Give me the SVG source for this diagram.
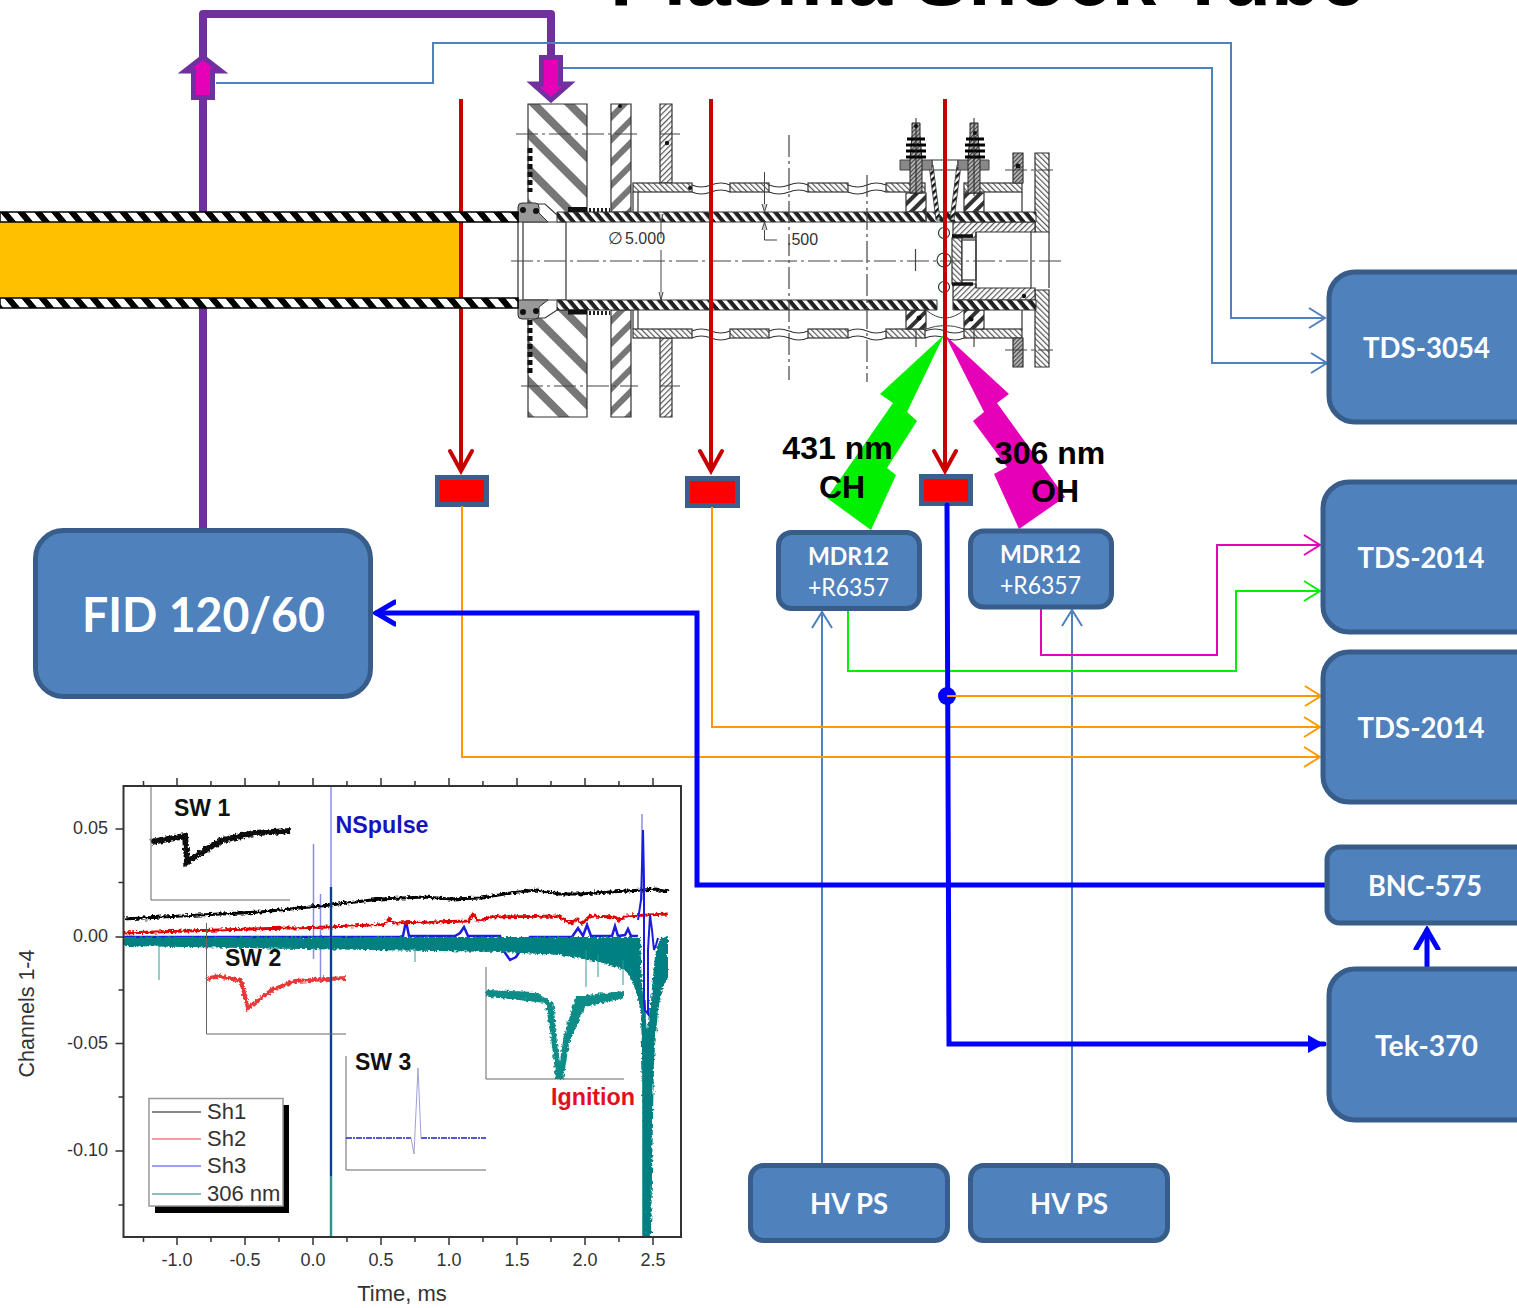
<svg xmlns="http://www.w3.org/2000/svg" width="1517" height="1308" viewBox="0 0 1517 1308">
<style>
.box{fill:#4F81BD;stroke:#385D8A;stroke-width:5}
.lbl{font-family:Lato,"Open Sans",sans-serif;font-weight:700;fill:#fff;text-anchor:middle}
.reg{font-weight:400}
.det{fill:#f00;stroke:#3B5E8C;stroke-width:5}
.thin{fill:none;stroke-width:2;stroke-linejoin:miter}
.b{stroke:#4F81BD}.o{stroke:#FF9900}.g{stroke:#00F000}.m{stroke:#E600B8}
.thick{fill:none;stroke:#0000FF;stroke-width:5;stroke-linecap:round;stroke-linejoin:miter}
.red{fill:none;stroke:#C80000;stroke-width:4}
.dk{fill:none;stroke:#333;stroke-width:1.2}
.cl{fill:none;stroke:#444;stroke-width:1.2;stroke-dasharray:22 4 3 4}
.ax{fill:none;stroke:#666;stroke-width:1}
.t{font-family:"Liberation Sans",Arial,sans-serif;fill:#333}
.tb{font-family:"Liberation Sans",Arial,sans-serif;font-weight:700}
.tick{font-size:18px;text-anchor:middle}
.ytick{font-size:18px;text-anchor:end}
.leg{font-size:22px}
</style>
<defs>
<marker id="mb" viewBox="-18 -12 20 24" refX="0" refY="0" markerWidth="20" markerHeight="24" markerUnits="userSpaceOnUse" orient="auto"><path d="M-16-10L0 0L-16 10" fill="none" stroke="#4F81BD" stroke-width="2"/></marker>
<marker id="mo" viewBox="-18 -12 20 24" refX="0" refY="0" markerWidth="20" markerHeight="24" markerUnits="userSpaceOnUse" orient="auto"><path d="M-16-10L0 0L-16 10" fill="none" stroke="#FF9900" stroke-width="2"/></marker>
<marker id="mg" viewBox="-18 -12 20 24" refX="0" refY="0" markerWidth="20" markerHeight="24" markerUnits="userSpaceOnUse" orient="auto"><path d="M-16-10L0 0L-16 10" fill="none" stroke="#00F000" stroke-width="2"/></marker>
<marker id="mm" viewBox="-18 -12 20 24" refX="0" refY="0" markerWidth="20" markerHeight="24" markerUnits="userSpaceOnUse" orient="auto"><path d="M-16-10L0 0L-16 10" fill="none" stroke="#E600B8" stroke-width="2"/></marker>
<marker id="mr" viewBox="-24 -14 28 28" refX="0" refY="0" markerWidth="28" markerHeight="28" markerUnits="userSpaceOnUse" orient="auto"><path d="M-20-11L0 0L-20 11" fill="none" stroke="#C80000" stroke-width="4" stroke-linecap="round"/></marker>
<marker id="mt" viewBox="-20 -14 24 28" refX="0" refY="0" markerWidth="24" markerHeight="28" markerUnits="userSpaceOnUse" orient="auto"><path d="M-19-11L0 0L-19 11" fill="none" stroke="#0000FF" stroke-width="5" stroke-linecap="round"/></marker>
<marker id="mf" viewBox="-16 -10 18 20" refX="0" refY="0" markerWidth="18" markerHeight="20" markerUnits="userSpaceOnUse" orient="auto"><path d="M-16-9L0 0L-16 9Z" fill="#0000FF"/></marker>
<pattern id="wallL" width="17" height="10" patternUnits="userSpaceOnUse" patternTransform="skewX(40)"><rect width="17" height="10" fill="#000"/><rect width="9" height="10" fill="#fff"/></pattern>
<pattern id="wallD" width="10" height="10" patternUnits="userSpaceOnUse" patternTransform="skewX(40)"><rect width="10" height="10" fill="#222"/><rect width="4.5" height="10" fill="#fff"/></pattern>
<pattern id="hatchA" width="25" height="25" patternUnits="userSpaceOnUse" patternTransform="rotate(-45)"><rect width="25" height="25" fill="#fff"/><rect width="8" height="25" fill="#777"/></pattern>
<pattern id="hatchB" width="16" height="16" patternUnits="userSpaceOnUse" patternTransform="rotate(45)"><rect width="16" height="16" fill="#fff"/><rect width="6" height="16" fill="#777"/></pattern>
<pattern id="fine" width="4" height="4" patternUnits="userSpaceOnUse" patternTransform="rotate(-45)"><rect width="4" height="4" fill="#fff"/><rect width="1.2" height="4" fill="#555"/></pattern>
<pattern id="fineR" width="4" height="4" patternUnits="userSpaceOnUse" patternTransform="rotate(45)"><rect width="4" height="4" fill="#fff"/><rect width="1.2" height="4" fill="#555"/></pattern>
<pattern id="dense" width="3" height="3" patternUnits="userSpaceOnUse" patternTransform="rotate(45)"><rect width="3" height="3" fill="#bbb"/><rect width="1.2" height="3" fill="#444"/></pattern>
<pattern id="bold" width="9" height="9" patternUnits="userSpaceOnUse" patternTransform="rotate(45)"><rect width="9" height="9" fill="#fff"/><rect width="4" height="9" fill="#333"/></pattern>
<pattern id="strip" width="5" height="5" patternUnits="userSpaceOnUse" patternTransform="rotate(45)"><rect width="5" height="5" fill="#fff"/><rect width="2.500" height="5" fill="#111"/></pattern>
<filter id="noise" filterUnits="userSpaceOnUse" x="100" y="770" width="600" height="490"><feTurbulence type="fractalNoise" baseFrequency="0.35" numOctaves="2" seed="4"/><feDisplacementMap in="SourceGraphic" scale="5" xChannelSelector="R" yChannelSelector="G"/></filter>
</defs>

<text x="610" y="5" class="tb" font-size="80" textLength="755" lengthAdjust="spacingAndGlyphs" fill="#000">Plasma Shock Tube</text>

<g id="purple-line"><path d="M203 530V14H551V60" fill="none" stroke="#7030A0" stroke-width="8" stroke-linejoin="round"/></g>

<rect id="gas" x="0" y="222" width="461" height="76" fill="#FFC000"/>

<g id="cutaway">
<g class="dk">
<path d="M528 104H587V215H557L545 204H528Z" fill="url(#hatchA)"/>
<path d="M528 318H545L557 310H587V417H528Z" fill="url(#hatchA)"/>
<path d="M611 104H631V212H611Z" fill="url(#hatchB)"/>
<path d="M611 310H631V417H611Z" fill="url(#hatchB)"/>
<path d="M660 104H672V183H660Z" fill="url(#fineR)"/>
<path d="M660 338H672V417H660Z" fill="url(#fineR)"/>
<g fill="url(#fine)">
<rect x="633" y="183" width="59" height="9"/><rect x="730" y="183" width="39" height="9"/><rect x="808" y="183" width="40" height="9"/><rect x="886" y="183" width="39" height="9"/><rect x="964" y="183" width="58" height="9"/>
<rect x="633" y="329" width="59" height="9"/><rect x="730" y="329" width="39" height="9"/><rect x="808" y="329" width="40" height="9"/><rect x="886" y="329" width="39" height="9"/><rect x="964" y="329" width="58" height="9"/>
</g>
<path d="M692 185q9 4 19 0t19 0M692 192q9 4 19 0t19 0M769 185q10 4 20 0t19 0M769 192q10 4 20 0t19 0M848 185q10 4 19 0t19 0M848 192q10 4 19 0t19 0M692 331q9-4 19 0t19 0M692 338q9-4 19 0t19 0M769 331q10-4 20 0t19 0M769 338q10-4 20 0t19 0M848 331q10-4 19 0t19 0M848 338q10-4 19 0t19 0M925 331q10-4 20 0t19 0M925 338q10-4 20 0t19 0"/>
<path d="M633 192V212M638 192V212M633 310V329M638 310V329M1022 192V212M1022 310V329"/>
<rect x="906" y="193" width="20" height="19" fill="url(#bold)"/><rect x="964" y="193" width="20" height="19" fill="url(#bold)"/>
<rect x="906" y="310" width="20" height="19" fill="url(#bold)"/><rect x="964" y="310" width="20" height="19" fill="url(#bold)"/>
<path d="M1013 153H1023V183H1013ZM1013 338H1023V367H1013Z" fill="url(#dense)"/>
<path d="M1035 153H1049V232H1035ZM1035 290H1049V367H1035Z" fill="url(#fine)"/>
<path d="M953 222H1035V232H976V238H953ZM953 300H1035V288H976V284H953Z" fill="url(#fineR)"/>
<rect x="952" y="238" width="10" height="46" fill="url(#fine)"/>
<rect x="962" y="240" width="14" height="40" fill="#fff"/>
<path d="M976 232V288M1031 232V288M1049 232V288M566 222V300M518 222V300M523 222V300M523 222H566M523 300H566"/>
<path d="M932 160H958V170H932Z" fill="#fff"/>
<circle cx="944" cy="233" r="5.500" fill="none"/><circle cx="944" cy="260" r="7" fill="none"/><circle cx="944" cy="287" r="5.500" fill="none"/>
</g>
<path d="M926 212V222H1036V212ZM557 212H926V222H557Z" fill="url(#wallD)" stroke="#333"/>
<path d="M557 300H937V310H557ZM953 300H1036V310H953Z" fill="url(#wallD)" stroke="#333"/>
<path d="M929 165H933L940 220H936ZM961 165H957L950 220H954Z" fill="url(#strip)" stroke="#333" stroke-width=".8"/>
<path d="M926 310Q945 326 964 310M926 329Q945 322 964 329" fill="none" stroke="#444"/>
<path d="M525 203H535Q539 203 539 207V213L548 222H523L518 222V207Q518 203 522 203ZM518 300H548L539 307V315Q539 319 535 319H522Q518 319 518 315Z" fill="#999" stroke="#333"/>
<circle cx="523" cy="210" r="3" fill="#111"/><circle cx="536" cy="211" r="3" fill="#111"/><circle cx="523" cy="312" r="3" fill="#111"/><circle cx="536" cy="311" r="3" fill="#111"/>
<path d="M530 148V192M530 320V373" stroke="#111" stroke-width="5" stroke-dasharray="5 3" fill="none"/>
<path d="M568 209.500H587M568 312H587" stroke="#111" stroke-width="5" fill="none"/>
<path d="M589 210H610M589 313H610" stroke="#222" stroke-width="4" stroke-dasharray="2 2" fill="none"/>
<path d="M900 160H932V170H900ZM958 160H989V170H958Z" fill="#888" stroke="#444"/>
<g fill="url(#dense)" stroke="#222"><path d="M912 123H920V135L922 160V193H910V160L912 135Z"/><path d="M970 123H978V135L980 160V193H968V160L970 135Z"/></g>
<path d="M907 139H925M906 145H926M906 151H926M906 157H926M966 139H984M965 145H985M965 151H985M965 157H985" stroke="#000" stroke-width="3"/>
<path d="M916 118V196M974 118V196M916 330V347M974 330V347" stroke="#222" fill="none"/>
<path d="M952 236H973M952 284H973" stroke="#111" stroke-width="3.500" fill="none"/>
<g fill="#111"><circle cx="620" cy="106" r="2"/><circle cx="667" cy="143" r="2.200"/><circle cx="690" cy="188" r="2"/><circle cx="1018" cy="166" r="2.500"/><circle cx="919" cy="318" r="2.500"/><circle cx="971" cy="319" r="2.500"/><circle cx="1024" cy="296" r="2.200"/><circle cx="916" cy="126" r="2"/><circle cx="975" cy="133" r="2"/></g>
<g class="cl"><path d="M511 261H1063"/><path d="M516 134H638M660 134H680M521 386H638M660 386H680M1005 170H1053M1005 350H1053"/><path d="M789 135V380M867 175V382M915.500 249V272"/></g>
<g fill="none" stroke="#444"><path d="M661 222V238M661 250V300M764.500 172V212M764.500 222V240H777"/><path d="M659 214L661 222L663 214M659 292L661 300L663 292M762 204L764.500 212L767 204M762 230L764.500 222L767 230" fill="#ccc"/></g>
<text x="608" y="244" class="t" font-size="17" fill="#444">∅</text><text x="625" y="244" class="t" font-size="16">5.000</text><text x="787" y="245" class="t" font-size="16">.500</text>
</g>

<g id="bolts">
<polygon points="944,335 880,394 893,403 827,498 871,530 896,475 887,468 917,421 907,412" fill="#00F000"/>
<polygon points="945,335 1009,394 997,403 1065,497 1019,529 994,474 1007,467 973,421 984,412" fill="#E600B8"/>
</g>

<g id="det1"><rect class="det" x="437.500" y="477.500" width="49" height="27"/></g>
<g id="det2"><rect class="det" x="687.500" y="478.500" width="50" height="27"/></g>
<g id="det3"><rect class="det" x="921.500" y="476.500" width="49" height="27"/></g>

<g id="connectors">
<path class="thin b" d="M216 83H433V43H1231V318H1325" marker-end="url(#mb)"/>
<path class="thin b" d="M563 68H1212V363H1327" marker-end="url(#mb)"/>
<path class="thin b" d="M822 1164V612" marker-end="url(#mb)"/>
<path class="thin b" d="M1072 1164V610" marker-end="url(#mb)"/>
<path class="thin g" d="M848 610V671H1236V591H1320" marker-end="url(#mg)"/>
<path class="thin m" d="M1041 609V655H1217V545H1320" marker-end="url(#mm)"/>
<path class="thin o" d="M462 506V757H1320" marker-end="url(#mo)"/>
<path class="thin o" d="M712 507V727H1320" marker-end="url(#mo)"/>
<path class="thick" d="M947 505L949 1044H1324" marker-end="url(#mf)"/>
<circle cx="947" cy="696" r="9" fill="#0000FF"/>
<path class="thin o" d="M947 696H1321" marker-end="url(#mo)"/>
<path class="thick" d="M1325 885H697V613H376" marker-end="url(#mt)"/>
<path class="thick" d="M1427 967V930" marker-end="url(#mt)"/>
<path class="red" d="M461 99V471" marker-end="url(#mr)"/>
<path class="red" d="M711 99V471" marker-end="url(#mr)"/>
<path class="red" d="M945 99V471" marker-end="url(#mr)"/>
</g>

<g id="tube-walls" stroke="#000" stroke-width="1.500"><rect x="0" y="212" width="518" height="10" fill="url(#wallL)"/><rect x="0" y="298" width="518" height="10" fill="url(#wallL)"/></g>

<g id="arrow-up"><polygon points="203,57 221,71 212.500,71 212.500,97.500 193.500,97.500 193.500,71 185,71" fill="#E600B8" stroke="#7030A0" stroke-width="5"/></g>
<g id="arrow-down"><polygon points="551,100 569,84 560.500,84 560.500,57.500 541.500,57.500 541.500,84 533,84" fill="#E600B8" stroke="#7030A0" stroke-width="5"/></g>

<g id="fid"><rect class="box" x="35.500" y="530.500" width="335" height="166" rx="28"/><text class="lbl" x="203.500" y="632" font-size="48" textLength="243" lengthAdjust="spacingAndGlyphs">FID 120/60</text></g>
<g id="tds3054"><rect class="box" x="1329" y="272" width="220" height="150" rx="26"/><text class="lbl" x="1426.500" y="358" font-size="29" textLength="127" lengthAdjust="spacingAndGlyphs">TDS-3054</text></g>
<g id="tds2014a"><rect class="box" x="1323" y="482" width="220" height="150" rx="26"/><text class="lbl" x="1421" y="568" font-size="29" textLength="127" lengthAdjust="spacingAndGlyphs">TDS-2014</text></g>
<g id="tds2014b"><rect class="box" x="1323" y="652" width="220" height="150" rx="26"/><text class="lbl" x="1421" y="738" font-size="29" textLength="127" lengthAdjust="spacingAndGlyphs">TDS-2014</text></g>
<g id="bnc575"><rect class="box" x="1327" y="847" width="220" height="76" rx="13"/><text class="lbl" x="1425" y="896" font-size="28" textLength="114" lengthAdjust="spacingAndGlyphs">BNC-575</text></g>
<g id="tek370"><rect class="box" x="1329" y="969" width="220" height="151" rx="26"/><text class="lbl" x="1426.500" y="1056" font-size="29" textLength="103" lengthAdjust="spacingAndGlyphs">Tek-370</text></g>
<g id="mdr12a"><rect class="box" x="778.500" y="532.500" width="141" height="76" rx="13"/><text class="lbl" x="848.500" y="565" font-size="25" textLength="81" lengthAdjust="spacingAndGlyphs">MDR12</text><text class="lbl reg" x="848.500" y="596" font-size="25" textLength="81" lengthAdjust="spacingAndGlyphs">+R6357</text></g>
<g id="mdr12b"><rect class="box" x="970.500" y="531" width="141" height="76" rx="13"/><text class="lbl" x="1040.500" y="563" font-size="25" textLength="81" lengthAdjust="spacingAndGlyphs">MDR12</text><text class="lbl reg" x="1040.500" y="594" font-size="25" textLength="81" lengthAdjust="spacingAndGlyphs">+R6357</text></g>
<g id="hvps1"><rect class="box" x="750.500" y="1165.500" width="197" height="75" rx="13"/><text class="lbl" x="849" y="1214" font-size="28" textLength="78" lengthAdjust="spacingAndGlyphs">HV PS</text></g>
<g id="hvps2"><rect class="box" x="970.500" y="1165.500" width="197" height="75" rx="13"/><text class="lbl" x="1069" y="1214" font-size="28" textLength="78" lengthAdjust="spacingAndGlyphs">HV PS</text></g>

<g id="bolt-labels" class="tb" font-size="32" text-anchor="middle" fill="#000">
<text x="837.500" y="459">431 nm</text><text x="842" y="498">CH</text>
<text x="1050" y="464">306 nm</text><text x="1055" y="502">OH</text>
</g>

<g id="plot">
<g id="traces">
<path d="M331 787V887M313.500 844V959M320.500 894V983M642 814V900" fill="none" stroke="#8C8CE8" stroke-width="1.500"/>
<path d="M124 937H400L403 936L406 921L409 936H455L460 933L464 927L468 936H500L503 950L510 960L516 957L522 948L530 937H572L578 928L583 936L587 925L591 936H612L615 926L618 936L625 935L628 929L631 936H638" fill="none" stroke="#1C1CE0" stroke-width="2.500"/>
<g filter="url(#noise)">
<path d="M124 919L200 915L260 912L330 905L380 899L424 897L450 899L482 898L510 893L536 890L560 894L580 894L610 892L643 890L655 889L668 892" fill="none" stroke="#000" stroke-width="3.200"/>
<path d="M124 933L250 929L330 927L384 924.500L389 919L394 923L469 921L473 914L478 921L491 917L558 916L565 920L571 923L577 919L582 924L590 916L615 917L620 921L625 916L668 914" fill="none" stroke="#E00000" stroke-width="2.800"/>
<polygon points="124,937 640,937 642,985 647,1030 651,1000 655,955 660,938 668,937 668,977 662,990 658,1010 654,1060 651,1237 645,1237 643,1100 641,1010 634,985 625,970 600,962 560,955 500,952 300,949 124,946" fill="#008080"/>
<path d="M151 842L185 836L187 862L205 850L223 840L254 833L290 831" fill="none" stroke="#111" stroke-width="6"/>
<path d="M207 979L219 976L241 981L248 1008L272 990L295 981L346 978" fill="none" stroke="#E83838" stroke-width="4"/>
<polygon points="486,990 535,992 553.600,1003 557,1044 560,1062 563.400,1038 576,996 624,991 624,998 585,1007 569,1044 563.400,1079 556,1079 551,1038 545.500,1003 486,996.500" fill="#0E8C88"/>
</g>
<path d="M644 1000V1237M648 1060V1237" stroke="#008080" stroke-width="3.500" fill="none"/>
<path d="M638 920L641 900L643 830L644 880L644 1000L645 1010L648 1014L648 950L650 915L652 930L654 950L656 945L658 938" fill="none" stroke="#1C1CE0" stroke-width="2"/>
<path d="M159 946V980M415 948V962M586 950V987M598 955V977M623 960V985" stroke="#2C9C98" stroke-width="1" fill="none"/>
<path d="M331 887V1237" stroke="#2E9692" stroke-width="2.500" fill="none"/>
<path d="M331 887V1176" stroke="#103C90" stroke-width="2" fill="none"/>
</g>
<rect x="123.500" y="786" width="557.500" height="451" fill="none" stroke="#333" stroke-width="2"/>
<path d="M143.500 786v-5M177 786v-8M211 786v-5M245 786v-8M279 786v-5M313 786v-8M347 786v-5M381 786v-8M415 786v-5M449 786v-8M483 786v-5M517 786v-8M551 786v-5M585 786v-8M619 786v-5M653 786v-8M143.500 1237v5M177 1237v8M211 1237v5M245 1237v8M279 1237v5M313 1237v8M347 1237v5M381 1237v8M415 1237v5M449 1237v8M483 1237v5M517 1237v8M551 1237v5M585 1237v8M619 1237v5M653 1237v8M123.500 829h-8M123.500 882.500h-5M123.500 937h-8M123.500 990h-5M123.500 1043.500h-8M123.500 1097h-5M123.500 1151h-8M123.500 1205h-5" stroke="#333" stroke-width="1.500" fill="none"/>
<g class="t tick"><text x="177" y="1266">-1.0</text><text x="245" y="1266">-0.5</text><text x="313" y="1266">0.0</text><text x="381" y="1266">0.5</text><text x="449" y="1266">1.0</text><text x="517" y="1266">1.5</text><text x="585" y="1266">2.0</text><text x="653" y="1266">2.5</text></g>
<g class="t ytick"><text x="108" y="834">0.05</text><text x="108" y="942">0.00</text><text x="108" y="1049">-0.05</text><text x="108" y="1156">-0.10</text></g>
<text x="402" y="1301" class="t" font-size="22" text-anchor="middle">Time, ms</text>
<text transform="translate(34 1013.500) rotate(-90)" class="t" font-size="21.500" text-anchor="middle">Channels 1-4</text>
<g class="ax"><path d="M151 787V900H290M206.500 923V1034H346M346 1056V1170H486M486 967V1079H624"/></g>
<path d="M346 1138H411" stroke="#2020D0" stroke-width="1.500" stroke-dasharray="6 1 2 1" fill="none"/><path d="M421 1138H486" stroke="#2020D0" stroke-width="1.500" stroke-dasharray="6 1 2 1" fill="none"/>
<path d="M411 1138L414 1154L418 1068L421 1138" stroke="#A0A0D8" fill="none"/>
<g class="tb" font-size="23"><text x="174" y="816" fill="#111">SW 1</text><text x="225" y="966" fill="#111">SW 2</text><text x="355" y="1070" fill="#111">SW 3</text><text x="335.500" y="833" fill="#1414C0" textLength="93" lengthAdjust="spacingAndGlyphs">NSpulse</text><text x="551" y="1105" fill="#E01020" textLength="84" lengthAdjust="spacingAndGlyphs">Ignition</text></g>
<g id="legend">
<rect x="155" y="1105" width="134" height="108" fill="#000"/>
<rect x="149" y="1098.500" width="134" height="107.500" fill="#fff" stroke="#999" stroke-width="1.500"/>
<path d="M152 1112H201" stroke="#111"/><path d="M152 1139H201" stroke="#E04040"/><path d="M152 1166H201" stroke="#4040E0"/><path d="M152 1194H201" stroke="#108080"/>
<g class="t leg"><text x="207" y="1119">Sh1</text><text x="207" y="1146">Sh2</text><text x="207" y="1173">Sh3</text><text x="207" y="1201">306 nm</text></g>
</g>
</g>
</svg>
